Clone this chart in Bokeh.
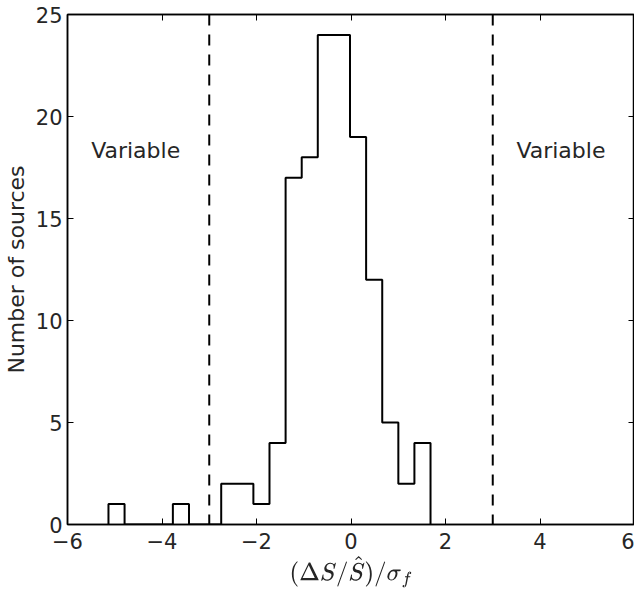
import numpy as np
from bokeh.plotting import figure
from bokeh.models import LinearAxis, FixedTicker, Range1d, Span, Label, CustomJSTickFormatter
from bokeh.embed import file_html
from bokeh.resources import INLINE

# Histogram data (bin edges and counts)
bin_edges = [-5.133, -4.792, -4.451, -4.111, -3.770, -3.429, -3.088, -2.747,
             -2.407, -2.066, -1.725, -1.384, -1.043, -0.703, -0.362, -0.021,
             0.320, 0.661, 1.002, 1.342, 1.683]
counts = [1, 0, 0, 0, 1, 0, 0, 2, 2, 1, 4, 17, 18, 24, 24, 19, 12, 5, 2, 4]
thresholds = [-3, 3]
x_ticks = [-6, -4, -2, 0, 2, 4, 6]
x_tick_labels = ["\u22126", "\u22124", "\u22122", "0", "2", "4", "6"]
y_ticks = [0, 5, 10, 15, 20, 25]
annotations = [("Variable", -5.5, 18.35), ("Variable", 3.5, 18.35)]

FONT = "DejaVu Sans"
TXT = "#262626"

p = figure(width=634, height=590, output_backend="svg",
           toolbar_location=None, x_range=Range1d(-6, 6), y_range=Range1d(0, 25),
           min_border_left=58, min_border_top=14, min_border_right=0, min_border_bottom=60,
           background_fill_color="white", border_fill_color="white")
p.grid.visible = False
p.outline_line_color = "black"
p.outline_line_width = 1.5

# step outline
xs, ys = [bin_edges[0]], [0]
for i, c in enumerate(counts):
    xs += [bin_edges[i], bin_edges[i + 1]]
    ys += [c, c]
xs.append(bin_edges[-1]); ys.append(0)
p.line(xs, ys, line_color="black", line_width=2)

for t in thresholds:
    p.add_layout(Span(location=t, dimension="height", line_color="black",
                      line_width=2, line_dash="11 9"))

for txt, x, y in annotations:
    p.add_layout(Label(x=x, y=y, text=txt, text_font=FONT, text_font_size="22px",
                       text_color=TXT, text_baseline="middle", text_align="left"))

def style(ax, ticks):
    ax.ticker = FixedTicker(ticks=ticks)
    ax.major_tick_in = 6
    ax.major_tick_out = 0
    ax.minor_tick_line_color = None
    ax.axis_line_color = "black"
    ax.axis_line_width = 1.5
    ax.major_tick_line_color = "black"
    ax.major_tick_line_width = 1
    ax.major_label_text_font = FONT
    ax.major_label_text_font_size = "21px"
    ax.major_label_text_color = TXT
    ax.axis_label_text_font = FONT
    ax.axis_label_text_font_size = "22px"
    ax.axis_label_text_font_style = "normal"
    ax.axis_label_text_color = TXT

xa = p.xaxis[0]
style(xa, x_ticks)
xa.major_label_overrides = {t: l for t, l in zip(x_ticks, x_tick_labels)}
xa.major_label_standoff = 8
xa.axis_label = r"$$(\Delta S/\hat{S})/\sigma_f$$"
xa.axis_label_text_font_size = "19px"
xa.axis_label_standoff = 2

ya = p.yaxis[0]
style(ya, y_ticks)
ya.axis_label = "Number of sources"
ya.major_label_standoff = 5
ya.axis_label_standoff = 4

def bare(ax):
    ax.formatter = CustomJSTickFormatter(code="return ''")
    ax.major_label_text_font_size = "0px"
    ax.major_label_standoff = 0
    ax.axis_label_standoff = 0

top = LinearAxis()
style(top, x_ticks)
bare(top)
p.add_layout(top, "above")

right = LinearAxis()
style(right, y_ticks)
bare(right)
p.add_layout(right, "right")

open("out.html", "w").write(file_html(p, INLINE))
